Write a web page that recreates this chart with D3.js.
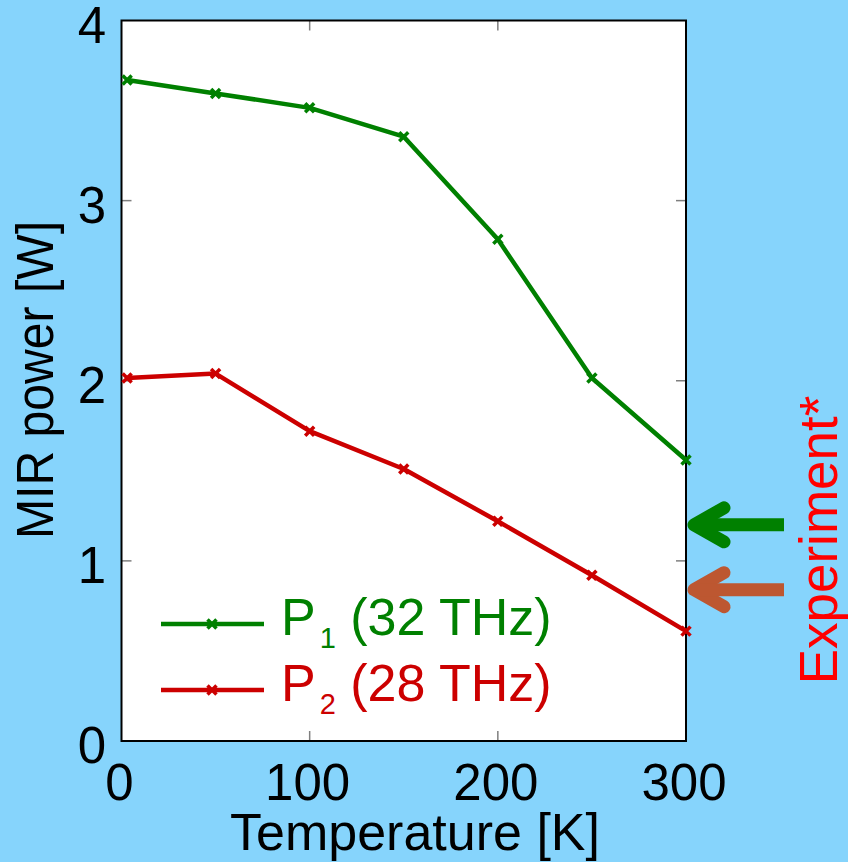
<!DOCTYPE html>
<html>
<head>
<meta charset="utf-8">
<script src="https://cdn.jsdelivr.net/npm/d3@7"></script>
<style>
  html, body { margin: 0; padding: 0; background: #86d4fc; }
  svg { display: block; font-family: "Liberation Sans", Arial, sans-serif; }
</style>
</head>
<body>
<div id="chart"></div>
<script>
// data
const temps = [3, 50, 100, 150, 200, 250, 300];
const p1 = [3.67, 3.595, 3.515, 3.355, 2.785, 2.015, 1.56];
const p2 = [2.015, 2.04, 1.72, 1.51, 1.22, 0.92, 0.61];
const seriesNames = ["P1 (32 THz)", "P2 (28 THz)"];
const xTicks = [0, 100, 200, 300];
const yTicks = [0, 1, 2, 3, 4];
const experiment = [1.2, 0.84];

const W = 848, H = 862;
const m = {left: 121.5, top: 20.5, right: 848 - 686, bottom: 862 - 741};

const svg = d3.select("#chart").append("svg")
    .attr("width", W)
    .attr("height", H);

const x = d3.scaleLinear().domain([0, 300]).range([m.left, W - m.right]);
const y = d3.scaleLinear().domain([0, 4]).range([H - m.bottom, m.top]);

// plot box
svg.append("rect")
    .attr("x", x(0)).attr("y", y(4))
    .attr("width", x(300) - x(0)).attr("height", y(0) - y(4))
    .attr("fill", "white");

// inward ticks on all sides
const tk = 10;
const tickG = svg.append("g").attr("stroke", "#7f7f7f").attr("stroke-width", 1.5);
xTicks.slice(1, -1).forEach(t => {
    tickG.append("line").attr("x1", x(t)).attr("x2", x(t)).attr("y1", y(0)).attr("y2", y(0) - tk);
    tickG.append("line").attr("x1", x(t)).attr("x2", x(t)).attr("y1", y(4)).attr("y2", y(4) + tk);
});
yTicks.slice(1, -1).forEach(t => {
    tickG.append("line").attr("x1", x(0)).attr("x2", x(0) + tk).attr("y1", y(t)).attr("y2", y(t));
    tickG.append("line").attr("x1", x(300)).attr("x2", x(300) - tk).attr("y1", y(t)).attr("y2", y(t));
});

svg.append("rect")
    .attr("x", x(0)).attr("y", y(4))
    .attr("width", x(300) - x(0)).attr("height", y(0) - y(4))
    .attr("fill", "none").attr("stroke", "black").attr("stroke-width", 2);

// tick labels
const fs = 51;
svg.append("g").selectAll("text").data(xTicks).enter().append("text")
    .attr("x", d => x(d) - 2).attr("y", 800)
    .attr("text-anchor", "middle").attr("font-size", fs)
    .text(d => d);
svg.append("g").selectAll("text").data(yTicks).enter().append("text")
    .attr("x", 106).attr("y", d => y(d) + 22)
    .attr("text-anchor", "end").attr("font-size", fs)
    .text(d => d);

svg.append("text")
    .attr("x", 415).attr("y", 850)
    .attr("text-anchor", "middle").attr("font-size", 52)
    .text("Temperature [K]");
svg.append("text")
    .attr("transform", "translate(53,380) rotate(-90)")
    .attr("text-anchor", "middle").attr("font-size", 51)
    .attr("textLength", 318).attr("lengthAdjust", "spacingAndGlyphs")
    .text("MIR power [W]");

// series
const colors = ["#008000", "#cc0000"];
const series = [p1, p2];
const line = d3.line().x((d, i) => x(temps[i])).y(d => y(d));

function cross(g, cx, cy, color) {
    const s = 4.5;
    g.append("path")
        .attr("d", `M${cx - s},${cy - s}L${cx + s},${cy + s}M${cx - s},${cy + s}L${cx + s},${cy - s}`)
        .attr("stroke", color).attr("stroke-width", 3.5);
}

series.forEach((vals, k) => {
    svg.append("path").datum(vals)
        .attr("d", line)
        .attr("fill", "none").attr("stroke", colors[k])
        .attr("stroke-width", 4.5).attr("stroke-linejoin", "round");
    const g = svg.append("g");
    vals.forEach((v, i) => cross(g, x(temps[i]), y(v), colors[k]));
});

// legend
const legY = [624, 690];
series.forEach((vals, k) => {
    svg.append("line")
        .attr("x1", 161).attr("x2", 264).attr("y1", legY[k]).attr("y2", legY[k])
        .attr("stroke", colors[k]).attr("stroke-width", 4.5);
    cross(svg, 212, legY[k], colors[k]);
    const t = svg.append("text")
        .attr("x", 281).attr("y", legY[k] + 11)
        .attr("font-size", 52).attr("fill", colors[k]);
    const name = seriesNames[k];
    t.append("tspan").text(name[0]);
    t.append("tspan").attr("font-size", 29).attr("dx", 4).attr("dy", 13).text(name[1]);
    t.append("tspan").attr("dy", -13).text(name.slice(2));
});

// experiment arrows
const arrowColors = ["#008000", "#bd5731"];
experiment.forEach((v, k) => {
    const yy = y(v), tip = x(300) + 8;
    svg.append("path")
        .attr("d", `M${tip + 30},${yy - 17}L${tip},${yy}L${tip + 30},${yy + 17}`)
        .attr("fill", "none").attr("stroke", arrowColors[k])
        .attr("stroke-width", 13).attr("stroke-linecap", "round").attr("stroke-linejoin", "round");
    svg.append("line")
        .attr("x1", tip + 4).attr("x2", 784).attr("y1", yy).attr("y2", yy)
        .attr("stroke", arrowColors[k]).attr("stroke-width", 13);
});

svg.append("text")
    .attr("transform", "translate(837,540) rotate(-90)")
    .attr("text-anchor", "middle").attr("font-size", 53).attr("fill", "#ff0000")
    .text("Experiment*");
</script>
</body>
</html>
